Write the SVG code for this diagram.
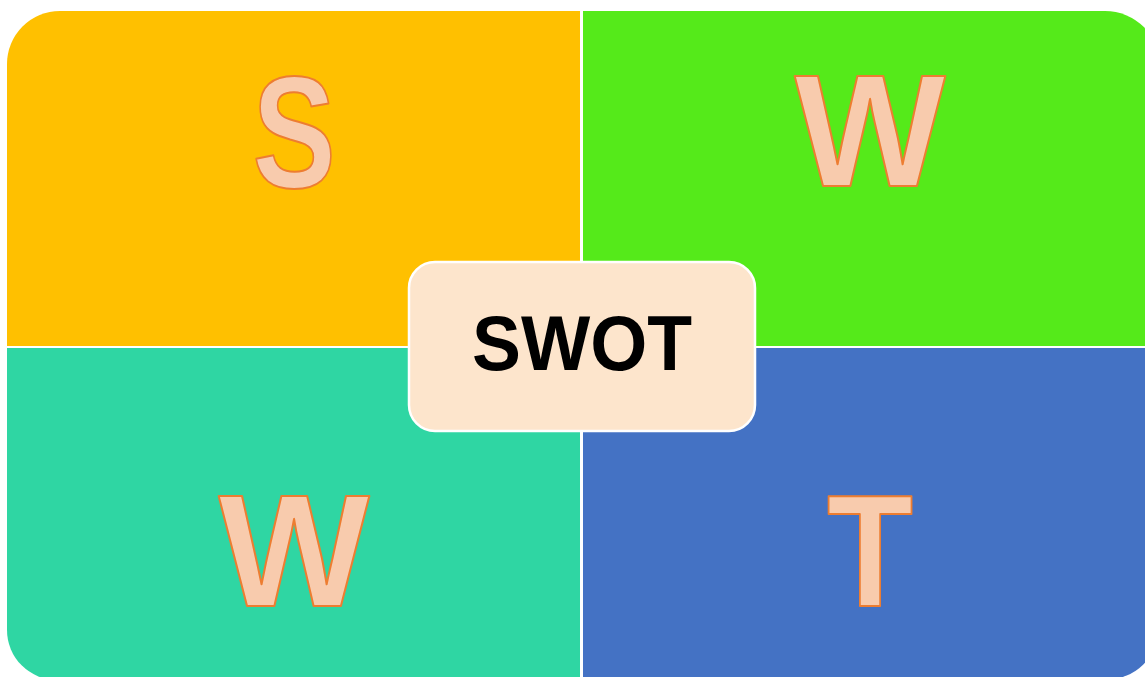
<svg xmlns="http://www.w3.org/2000/svg" width="1145" height="677" viewBox="0 0 1145 677">
<style>
.big{font-family:"Liberation Sans",Arial,sans-serif;font-weight:bold;font-size:160px;fill:#F8CBAD;stroke:#ED7D31;stroke-width:2;stroke-linejoin:round;text-anchor:middle}
.center{font-family:"Liberation Sans",Arial,sans-serif;font-weight:bold;font-size:78px;fill:#000;text-anchor:middle}
</style>
<rect width="1145" height="677" fill="#fff"/>
<g id="strengths">
<path d="M7,64 A53,53 0 0 1 60,11 H580 V346 H7 Z" fill="#FFC000"/>
<text class="big" x="294" y="187" transform="translate(294 0) scale(0.78 1) translate(-294 0)">S</text>
</g>
<g id="weaknesses">
<path d="M583,11 H1105 A55,55 0 0 1 1160,66 V346 H583 Z" fill="#55EA1A"/>
<text class="big" x="870" y="186">W</text>
</g>
<g id="opportunities">
<path d="M7,348 H580 V680 H57 A50,50 0 0 1 7,630 Z" fill="#2FD6A3"/>
<text class="big" x="294" y="606">W</text>
</g>
<g id="threats">
<path d="M583,348 H1160 V625 A55,55 0 0 1 1105,680 H583 Z" fill="#4472C4"/>
<text class="big" x="870" y="606" transform="translate(870 0) scale(0.88 1) translate(-870 0)">T</text>
</g>
<g id="swot">
<rect x="409" y="262" width="346" height="169" rx="26" ry="26" fill="#FDE5CC" stroke="#fff" stroke-width="2.5"/>
<text class="center" x="582" y="370" textLength="220" lengthAdjust="spacingAndGlyphs">SWOT</text>
</g>
<g id="connectors"></g>
</svg>
